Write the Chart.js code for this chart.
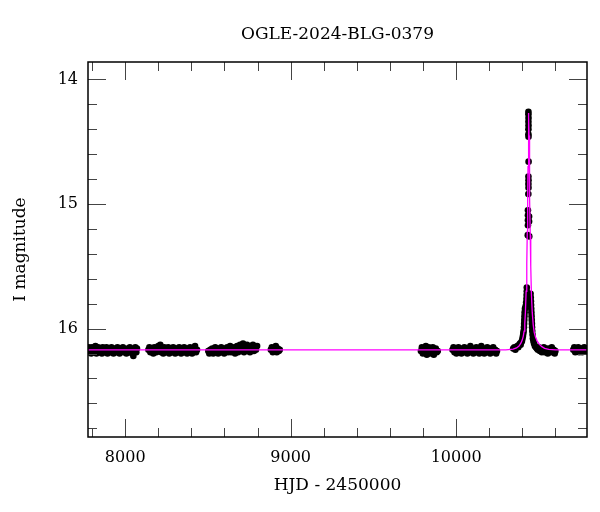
<!DOCTYPE html>
<html><head><meta charset="utf-8">
<script src="https://cdn.jsdelivr.net/npm/chart.js@4"></script>
<style>html,body{margin:0;padding:0;background:#fff}</style>
</head><body>
<canvas id="c" width="600" height="512"></canvas>
<script>
const titleText = 'OGLE-2024-BLG-0379';
const xTitle = 'HJD - 2450000';
const yTitle = 'I magnitude';
const xTicks = [8000, 9000, 10000];
const yTicks = [14, 15, 16];

const season1 = [[7779,16.15],[7784,16.19],[7789,16.17],[7794,16.20],[7799,16.15],[7804,16.18],[7809,16.16],[7815,16.19],[7820,16.14],[7826,16.20],[7831,16.17],[7837,16.15],[7842,16.19],[7848,16.18],[7853,16.16],[7859,16.20],[7864,16.15],[7870,16.18],[7876,16.17],[7881,16.19],[7887,16.15],[7893,16.20],[7899,16.16],[7905,16.18],[7911,16.19],[7917,16.15],[7923,16.17],[7929,16.20],[7935,16.16],[7941,16.18],[7947,16.19],[7953,16.15],[7959,16.17],[7966,16.20],[7972,16.16],[7979,16.18],[7986,16.15],[7993,16.19],[8000,16.17],[8007,16.20],[8014,16.16],[8021,16.19],[8028,16.15],[8035,16.18],[8042,16.20],[8049,16.22],[8055,16.17],[8061,16.15],[8067,16.19],[8071,16.16]];
const season2 = [[8140,16.17],[8146,16.15],[8152,16.19],[8158,16.16],[8164,16.18],[8170,16.20],[8176,16.15],[8182,16.17],[8188,16.19],[8194,16.16],[8200,16.14],[8206,16.18],[8212,16.13],[8218,16.19],[8224,16.16],[8230,16.20],[8236,16.15],[8242,16.18],[8248,16.17],[8254,16.19],[8260,16.15],[8266,16.20],[8272,16.16],[8278,16.18],[8284,16.19],[8290,16.15],[8296,16.17],[8302,16.20],[8308,16.16],[8314,16.18],[8320,16.19],[8326,16.15],[8332,16.17],[8338,16.20],[8344,16.16],[8350,16.18],[8356,16.15],[8362,16.19],[8368,16.17],[8374,16.20],[8380,16.16],[8386,16.19],[8392,16.15],[8398,16.18],[8404,16.20],[8410,16.16],[8416,16.17],[8422,16.14],[8428,16.19],[8434,16.17]];
const season3 = [[8502,16.18],[8508,16.20],[8514,16.17],[8520,16.19],[8526,16.16],[8532,16.20],[8538,16.18],[8544,16.15],[8550,16.19],[8556,16.17],[8562,16.20],[8568,16.16],[8574,16.18],[8580,16.15],[8586,16.19],[8592,16.17],[8598,16.20],[8604,16.16],[8610,16.18],[8616,16.15],[8622,16.19],[8628,16.17],[8634,16.14],[8640,16.19],[8646,16.16],[8652,16.18],[8658,16.15],[8664,16.20],[8670,16.17],[8676,16.14],[8682,16.19],[8688,16.16],[8694,16.13],[8700,16.18],[8706,16.15],[8712,16.12],[8718,16.19],[8724,16.14],[8730,16.17],[8736,16.13],[8742,16.18],[8748,16.15],[8754,16.19],[8760,16.14],[8766,16.17],[8772,16.13],[8778,16.18],[8784,16.15],[8790,16.17],[8797,16.14]];
const season4 = [[8880,16.17],[8886,16.15],[8892,16.19],[8898,16.16],[8904,16.18],[8910,16.14],[8916,16.19],[8922,16.16],[8928,16.18],[8934,16.17]];
const season5 = [[9787,16.18],[9793,16.15],[9799,16.20],[9805,16.16],[9811,16.19],[9817,16.14],[9823,16.21],[9829,16.17],[9835,16.15],[9841,16.20],[9847,16.16],[9853,16.19],[9859,16.15],[9865,16.21],[9871,16.17],[9877,16.16],[9883,16.19],[9889,16.18]];
const season6 = [[9978,16.17],[9984,16.15],[9990,16.19],[9996,16.16],[10002,16.20],[10008,16.18],[10014,16.15],[10020,16.19],[10026,16.17],[10032,16.20],[10038,16.16],[10044,16.18],[10050,16.15],[10056,16.19],[10062,16.17],[10068,16.20],[10074,16.16],[10080,16.18],[10086,16.14],[10092,16.19],[10098,16.17],[10104,16.20],[10110,16.16],[10116,16.18],[10122,16.15],[10128,16.19],[10134,16.17],[10140,16.20],[10146,16.16],[10152,16.14],[10158,16.19],[10164,16.17],[10170,16.20],[10176,16.16],[10182,16.18],[10188,16.15],[10194,16.19],[10200,16.17],[10206,16.20],[10212,16.16],[10218,16.18],[10224,16.15],[10230,16.19],[10236,16.17],[10242,16.20],[10247,16.18]];
const seasonEventRise = [[10345,16.16],[10352,16.15],[10358,16.17],[10364,16.15],[10370,16.14],[10376,16.15],[10381,16.13],[10386,16.12],[10390,16.13],[10394,16.11],[10398,16.10],[10401,16.08],[10404,16.06],[10406,16.04],[10408,16.02],[10410,15.99],[10411,15.96],[10412,15.93],[10413,15.90],[10414,15.87],[10416,15.84],[10420,15.82],[10423,15.79],[10425,15.76],[10426,15.73],[10427,15.70],[10427,15.67]];
const seasonEventPeak = [[10437,14.26],[10437,14.28],[10437.5,14.31],[10437,14.34],[10437.5,14.37],[10437,14.40],[10437,14.44],[10437.5,14.46],[10438,14.66],[10437,14.78],[10437.5,14.81],[10437,14.84],[10437.5,14.87],[10436.5,14.92],[10434,15.05],[10434,15.09],[10441,15.10],[10434,15.13],[10441,15.14],[10434,15.17],[10433,15.25],[10442,15.26]];
const seasonEventFall = [[10450,15.72],[10451,15.75],[10452,15.78],[10453,15.81],[10454,15.84],[10455,15.87],[10456,15.90],[10457,15.93],[10458,15.96],[10459,15.99],[10460,16.02],[10462,16.05],[10464,16.08],[10467,16.10],[10471,16.12],[10476,16.14],[10482,16.15],[10488,16.16],[10494,16.17],[10500,16.15],[10506,16.18],[10512,16.16],[10518,16.19],[10524,16.17],[10530,16.15],[10536,16.19],[10542,16.16],[10548,16.18],[10554,16.20],[10560,16.16],[10566,16.19],[10572,16.17],[10578,16.15],[10584,16.19],[10590,16.17],[10596,16.20],[10600,16.18]];
const season8 = [[10708,16.17],[10714,16.15],[10720,16.19],[10726,16.16],[10732,16.18],[10738,16.15],[10744,16.19],[10750,16.17],[10756,16.16],[10762,16.19],[10768,16.17],[10774,16.15],[10780,16.18],[10786,16.16]];

const modelCurve = [[7775,16.17],[10300,16.17],[10345,16.165],[10365,16.155],[10380,16.14],[10392,16.115],[10400,16.09],[10406,16.06],[10411,16.02],[10415,15.96],[10419,15.86],[10423,15.70],[10427,15.48],[10430,15.22],[10432.5,14.95],[10434.5,14.70],[10436.5,14.45],[10437.8,14.30],[10438.5,14.27],[10439.3,14.30],[10440.8,14.45],[10442.8,14.70],[10445,14.95],[10448,15.25],[10451,15.50],[10455,15.72],[10460,15.87],[10466,15.97],[10472,16.03],[10480,16.07],[10490,16.10],[10502,16.125],[10518,16.145],[10535,16.158],[10560,16.166],[10600,16.17],[10791,16.17]];

const observations = [].concat(season1, season2, season3, season4, season5, season6,
  seasonEventRise, seasonEventPeak, seasonEventFall, season8);

const FONT = 'DejaVu Serif';

const framePlugin = {
  id: 'frame',
  afterDatasetsDraw(chart) {
    const {ctx, chartArea: a, scales: {x, y}} = chart;
    ctx.save();
    ctx.strokeStyle = '#444';
    ctx.lineWidth = 1;
    ctx.beginPath();
    const major = 18, minor = 9;
    const xs = [];
    for (let v = 7800; v <= 10791; v += 200) xs.push(v);
    xs.forEach(v => {
      const len = xTicks.includes(v) ? major : minor;
      const px = Math.round(x.getPixelForValue(v)) + 0.5;
      if (px < a.left || px > a.right) return;
      ctx.moveTo(px, a.bottom); ctx.lineTo(px, a.bottom - len);
      ctx.moveTo(px, a.top); ctx.lineTo(px, a.top + len);
    });
    for (let k = 69; k <= 85; k++) {
      const v = k / 5;
      const len = (k % 5 === 0) ? major : minor;
      const py = Math.round(y.getPixelForValue(v)) + 0.5;
      if (py < a.top || py > a.bottom) continue;
      ctx.moveTo(a.left, py); ctx.lineTo(a.left + len, py);
      ctx.moveTo(a.right, py); ctx.lineTo(a.right - len, py);
    }
    ctx.stroke();
    ctx.strokeStyle = '#000';
    ctx.lineWidth = 1.5;
    ctx.strokeRect(a.left, a.top, a.right - a.left, a.bottom - a.top);
    ctx.restore();
  }
};

new Chart(document.getElementById('c'), {
  type: 'scatter',
  data: {
    datasets: [
      {
        label: 'model',
        data: modelCurve.map(p => ({x: p[0], y: p[1]})),
        showLine: true,
        borderColor: '#ff00ff',
        borderWidth: 1.3,
        pointRadius: 0,
        tension: 0,
        order: 0
      },
      {
        label: 'OGLE',
        data: observations.map(p => ({x: p[0], y: p[1]})),
        pointRadius: 3.3,
        backgroundColor: '#000',
        borderColor: '#000',
        borderWidth: 0,
        order: 1
      }
    ]
  },
  options: {
    responsive: false,
    animation: false,
    devicePixelRatio: 1,
    layout: {padding: {left: 0, right: 13, top: 0, bottom: 0}},
    plugins: {
      legend: {display: false},
      tooltip: {enabled: false},
      title: {
        display: true, text: titleText, fullSize: false, color: '#000',
        font: {family: FONT, size: 17, weight: 'normal', lineHeight: 1},
        padding: {top: 26, bottom: 19}
      }
    },
    scales: {
      x: {
        type: 'linear', min: 7775, max: 10791,
        grid: {display: false, drawTicks: false},
        border: {display: false},
        afterBuildTicks: s => { s.ticks = xTicks.map(v => ({value: v})); },
        afterFit: s => { s.height = 75; },
        ticks: {padding: 11, color: '#000', maxRotation: 0, font: {family: FONT, size: 16}, callback: v => String(v)},
        title: {display: true, text: xTitle, color: '#000', font: {family: FONT, size: 17, lineHeight: 1}, padding: {top: 0, bottom: 18}}
      },
      y: {
        type: 'linear', reverse: true, min: 13.86, max: 16.87,
        grid: {display: false, drawTicks: false},
        border: {display: false},
        afterBuildTicks: s => { s.ticks = yTicks.map(v => ({value: v})); },
        afterFit: s => { s.width = 88; },
        ticks: {padding: 10, color: '#000', font: {family: FONT, size: 16}, callback: v => String(v)},
        title: {display: true, text: yTitle, color: '#000', font: {family: FONT, size: 17, lineHeight: 1}, padding: {top: 12, bottom: 0}}
      }
    }
  },
  plugins: [framePlugin]
});
</script>
</body></html>
